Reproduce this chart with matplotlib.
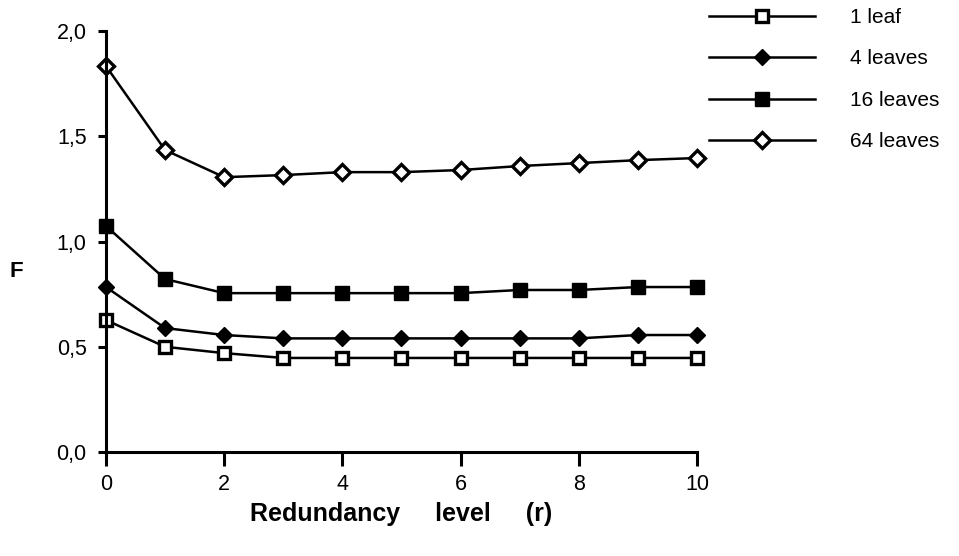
import matplotlib
matplotlib.use("Agg")
import matplotlib.pyplot as plt
from matplotlib.ticker import FuncFormatter

plt.rcParams['font.family'] = ['Liberation Sans', 'DejaVu Sans']

r = [0, 1, 2, 3, 4, 5, 6, 7, 8, 9, 10]
leaf1 = [0.627, 0.50, 0.47, 0.447, 0.447, 0.447, 0.447, 0.447, 0.447, 0.447, 0.447]
leaves4 = [0.784, 0.589, 0.556, 0.54, 0.54, 0.54, 0.54, 0.54, 0.54, 0.556, 0.556]
leaves16 = [1.074, 0.822, 0.755, 0.755, 0.755, 0.755, 0.755, 0.77, 0.77, 0.784, 0.784]
leaves64 = [1.834, 1.435, 1.306, 1.316, 1.33, 1.33, 1.34, 1.359, 1.373, 1.387, 1.397]
labels = ['1 leaf', '4 leaves', '16 leaves', '64 leaves']
xticks = [0, 2, 4, 6, 8, 10]
yticks = [0.0, 0.5, 1.0, 1.5, 2.0]

fig = plt.figure(figsize=(9.59, 5.56), dpi=100)
ax = fig.add_axes([0.1105, 0.187, 0.6163, 0.757])

lw = 1.8
ax.plot(r, leaf1, '-', color='black', lw=lw, marker='s', ms=9, mfc='white', mec='black', mew=2.4, label=labels[0], clip_on=False)
ax.plot(r, leaves4, '-', color='black', lw=lw, marker='D', ms=8.5, mfc='black', mec='black', label=labels[1], clip_on=False)
ax.plot(r, leaves16, '-', color='black', lw=lw, marker='s', ms=9.5, mfc='black', mec='black', label=labels[2], clip_on=False)
ax.plot(r, leaves64, '-', color='black', lw=lw, marker='D', ms=8.5, mfc='white', mec='black', mew=2.4, label=labels[3], clip_on=False)

ax.set_xlim(0, 10)
ax.set_ylim(0, 2.0)
ax.set_xticks(xticks)
ax.set_yticks(yticks)
ax.yaxis.set_major_formatter(FuncFormatter(lambda v, p: f"{v:.1f}".replace('.', ',')))
ax.spines['top'].set_visible(False)
ax.spines['right'].set_visible(False)
ax.spines['left'].set_linewidth(2.2)
ax.spines['bottom'].set_linewidth(2.2)
ax.tick_params(axis='y', direction='out', length=6, width=2.2, labelsize=15.5, pad=8)
ax.tick_params(axis='x', direction='out', length=10, width=2.2, labelsize=15.5, pad=6)

ax.set_xlabel('Redundancy     level     (r)', fontsize=18, fontweight='bold', labelpad=5)
ax.set_ylabel('F', fontsize=16, fontweight='bold', rotation=0, va='center', ha='center')
ax.yaxis.set_label_coords(-0.152, 0.43)

leg = ax.legend(loc='upper left', bbox_to_anchor=(1.006, 1.075), frameon=False, fontsize=15,
                handlelength=5.1, handletextpad=1.65, labelspacing=1.08, borderaxespad=0)

fig.savefig('out.png', dpi=100)
